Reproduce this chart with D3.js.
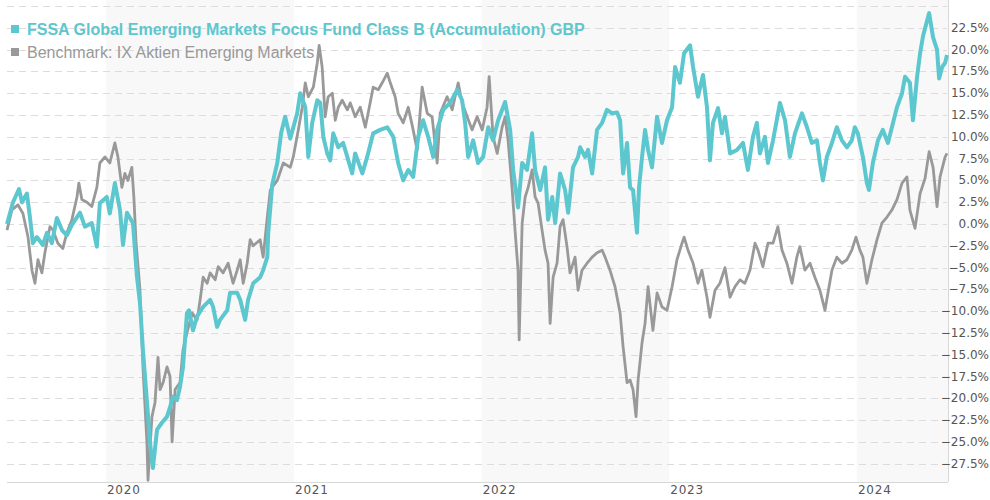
<!DOCTYPE html>
<html><head><meta charset="utf-8">
<script src="https://cdn.jsdelivr.net/npm/d3@7"></script>
<style>
html,body{margin:0;padding:0;background:#fff;}
svg{display:block;}
</style></head>
<body><svg id="chart" width="990" height="500"></svg>
<script>
// ---- data (dates as decimal years, values in %) ----
const fundName = "FSSA Global Emerging Markets Focus Fund Class B (Accumulation) GBP";
const benchName = "Benchmark: IX Aktien Emerging Markets";
const yearLabels = ["2020","2021","2022","2023","2024"];
const yTicks = [-27.5,-25,-22.5,-20,-17.5,-15,-12.5,-10,-7.5,-5,-2.5,0,2.5,5,7.5,10,12.5,15,17.5,20,22.5];
const gridTicks = [-27.5,-25,-22.5,-20,-17.5,-15,-12.5,-10,-7.5,-5,-2.5,0,2.5,5,7.5,10,12.5,15,17.5,20,22.5,25];

const fundDates = [2019.473,2019.505,2019.537,2019.553,2019.579,2019.595,2019.611,2019.632,2019.664,2019.686,2019.712,2019.739,2019.766,2019.792,2019.819,2019.862,2019.888,2019.925,2019.952,2019.968,2020.005,2020.021,2020.048,2020.075,2020.091,2020.112,2020.144,2020.165,2020.181,2020.197,2020.224,2020.234,2020.250,2020.272,2020.298,2020.325,2020.341,2020.357,2020.378,2020.394,2020.410,2020.431,2020.442,2020.463,2020.485,2020.517,2020.554,2020.570,2020.591,2020.607,2020.645,2020.660,2020.698,2020.714,2020.740,2020.756,2020.783,2020.820,2020.836,2020.858,2020.863,2020.884,2020.911,2020.932,2020.953,2020.980,2021.017,2021.033,2021.060,2021.076,2021.097,2021.124,2021.140,2021.156,2021.177,2021.193,2021.209,2021.236,2021.262,2021.284,2021.310,2021.326,2021.364,2021.390,2021.422,2021.459,2021.497,2021.529,2021.555,2021.582,2021.609,2021.635,2021.662,2021.688,2021.715,2021.742,2021.763,2021.795,2021.832,2021.870,2021.896,2021.912,2021.928,2021.955,2021.981,2022.008,2022.035,2022.061,2022.088,2022.125,2022.152,2022.168,2022.194,2022.216,2022.242,2022.269,2022.285,2022.312,2022.338,2022.354,2022.376,2022.392,2022.418,2022.445,2022.461,2022.487,2022.514,2022.525,2022.551,2022.567,2022.589,2022.615,2022.642,2022.668,2022.695,2022.722,2022.738,2022.754,2022.775,2022.791,2022.807,2022.828,2022.839,2022.855,2022.871,2022.887,2022.908,2022.935,2022.961,2022.988,2023.015,2023.031,2023.057,2023.079,2023.111,2023.127,2023.153,2023.180,2023.201,2023.217,2023.233,2023.260,2023.281,2023.297,2023.324,2023.361,2023.393,2023.419,2023.446,2023.467,2023.483,2023.510,2023.526,2023.553,2023.590,2023.617,2023.643,2023.670,2023.707,2023.734,2023.760,2023.787,2023.803,2023.819,2023.840,2023.867,2023.893,2023.920,2023.947,2023.973,2023.989,2024.005,2024.032,2024.053,2024.064,2024.085,2024.112,2024.138,2024.165,2024.192,2024.213,2024.240,2024.256,2024.282,2024.298,2024.320,2024.336,2024.352,2024.384,2024.405,2024.426,2024.437,2024.453,2024.469,2024.479];
const fundValues = [0.0,2.5,4.0,2.5,3.5,0.8,-2.2,-1.5,-2.4,-1.0,-2.2,0.7,-0.7,-1.3,-0.1,1.3,-0.3,0.1,-2.6,2.4,3.1,1.2,4.7,1.6,-2.4,1.3,0.1,-6.0,-9.0,-14.5,-22.0,-25.0,-28.0,-23.6,-22.8,-22.1,-21.0,-19.8,-20.2,-18.7,-16.4,-10.2,-9.9,-12.2,-10.6,-9.5,-8.7,-9.5,-11.8,-11.0,-9.9,-7.9,-7.9,-8.7,-11.0,-8.7,-6.8,-6.1,-5.3,-3.8,-1.0,4.5,7.0,10.5,12.3,9.8,12.7,15.0,13.4,7.7,11.6,14.2,13.9,10.0,8.1,7.3,10.4,8.8,9.3,7.7,5.8,8.1,5.8,7.7,10.4,10.8,11.1,10.0,7.0,5.0,6.2,5.4,10.0,11.9,10.0,7.7,10.8,13.1,13.9,15.4,14.2,11.6,7.7,9.6,7.0,7.7,11.1,9.6,11.9,14.0,10.8,6.2,1.9,7.0,6.2,10.4,6.2,3.9,6.5,0.5,3.1,0.1,5.8,3.9,1.3,6.5,7.7,8.8,7.7,8.5,5.8,10.8,11.6,13.1,12.7,12.8,11.9,5.8,9.3,4.2,3.9,-1.0,4.2,7.7,10.8,8.5,6.5,12.3,9.3,11.9,13.4,18.0,16.2,19.6,20.5,18.0,14.6,17.1,13.4,7.3,11.6,13.3,10.4,12.3,8.1,8.5,9.3,6.2,10.0,11.6,8.1,10.0,7.0,9.6,13.9,11.9,7.7,10.4,12.7,11.1,9.3,9.6,7.0,5.0,7.7,9.3,11.1,9.6,8.8,9.6,11.1,10.4,7.7,4.7,3.9,7.0,9.6,10.8,9.3,11.6,13.4,15.0,16.9,16.2,11.9,16.9,19.6,21.6,24.2,21.4,20.0,16.7,18.0,18.5,19.4];

const benchDates = [2019.473,2019.499,2019.531,2019.558,2019.585,2019.606,2019.622,2019.638,2019.659,2019.675,2019.702,2019.718,2019.744,2019.771,2019.792,2019.819,2019.846,2019.856,2019.872,2019.899,2019.925,2019.952,2019.968,2019.995,2020.021,2020.048,2020.064,2020.085,2020.101,2020.117,2020.138,2020.149,2020.160,2020.181,2020.197,2020.218,2020.224,2020.234,2020.245,2020.261,2020.277,2020.288,2020.304,2020.325,2020.341,2020.352,2020.368,2020.394,2020.410,2020.431,2020.458,2020.485,2020.501,2020.517,2020.538,2020.554,2020.581,2020.597,2020.623,2020.650,2020.676,2020.698,2020.714,2020.730,2020.751,2020.767,2020.783,2020.820,2020.836,2020.858,2020.874,2020.911,2020.943,2020.980,2020.996,2021.023,2021.044,2021.060,2021.076,2021.103,2021.124,2021.134,2021.150,2021.166,2021.182,2021.204,2021.220,2021.236,2021.257,2021.284,2021.300,2021.326,2021.353,2021.380,2021.395,2021.422,2021.449,2021.470,2021.497,2021.513,2021.539,2021.555,2021.582,2021.609,2021.635,2021.656,2021.683,2021.710,2021.736,2021.763,2021.779,2021.816,2021.843,2021.875,2021.896,2021.923,2021.949,2021.976,2022.003,2022.029,2022.040,2022.061,2022.083,2022.109,2022.125,2022.141,2022.162,2022.178,2022.194,2022.200,2022.216,2022.232,2022.248,2022.269,2022.285,2022.301,2022.322,2022.338,2022.354,2022.365,2022.381,2022.402,2022.418,2022.434,2022.455,2022.471,2022.498,2022.514,2022.535,2022.562,2022.589,2022.615,2022.642,2022.658,2022.684,2022.711,2022.738,2022.754,2022.775,2022.791,2022.807,2022.823,2022.834,2022.855,2022.871,2022.887,2022.913,2022.935,2022.961,2022.988,2023.015,2023.041,2023.068,2023.079,2023.100,2023.127,2023.153,2023.174,2023.201,2023.217,2023.244,2023.270,2023.297,2023.324,2023.350,2023.377,2023.403,2023.430,2023.457,2023.473,2023.499,2023.526,2023.553,2023.579,2023.601,2023.627,2023.654,2023.680,2023.696,2023.723,2023.750,2023.776,2023.803,2023.830,2023.846,2023.867,2023.893,2023.920,2023.947,2023.973,2023.995,2024.016,2024.032,2024.053,2024.080,2024.107,2024.133,2024.160,2024.186,2024.213,2024.240,2024.266,2024.282,2024.309,2024.336,2024.362,2024.384,2024.405,2024.426,2024.442,2024.469,2024.479];
const benchValues = [-0.7,1.6,2.2,1.2,-1.5,-5.3,-6.8,-4.1,-5.6,-3.3,-0.3,-0.7,-2.2,-2.8,-1.0,0.5,3.1,4.7,2.8,2.5,2.0,4.2,7.0,7.7,7.0,9.3,7.7,4.2,5.8,5.0,6.5,3.0,-2.0,-7.5,-16.4,-25.0,-29.4,-25.9,-22.1,-20.5,-15.3,-19.0,-18.2,-16.4,-17.5,-25.0,-19.0,-18.2,-14.4,-12.5,-10.2,-11.0,-8.7,-6.1,-6.8,-5.6,-6.4,-4.9,-5.6,-4.5,-6.8,-5.3,-4.1,-6.8,-4.5,-1.8,-2.5,-1.8,-3.8,0.8,3.9,5.0,7.0,6.5,7.7,10.8,13.4,16.2,14.6,15.7,18.5,20.5,18.0,12.3,14.6,15.0,11.9,13.4,14.2,13.1,13.9,12.3,13.4,11.1,12.7,15.7,15.4,16.2,17.3,16.2,14.6,12.7,11.6,13.4,10.8,8.5,15.7,12.7,12.3,7.0,12.7,14.6,13.1,16.2,13.9,12.3,10.8,12.3,10.8,13.4,16.9,10.0,8.1,11.1,12.3,9.6,4.2,-0.7,-5.3,-13.3,0.1,3.1,4.2,6.2,3.1,2.4,-0.7,-3.0,-4.5,-11.4,-6.1,-4.5,-0.3,0.5,-2.6,-5.6,-3.8,-7.6,-5.3,-4.5,-3.8,-3.3,-3.0,-3.8,-5.3,-7.2,-10.2,-14.1,-18.2,-17.9,-19.0,-22.1,-17.9,-13.6,-11.4,-7.2,-12.2,-7.9,-9.5,-9.9,-7.2,-4.1,-2.2,-1.5,-3.0,-4.5,-6.8,-5.3,-8.4,-10.7,-7.6,-6.8,-5.0,-8.4,-7.2,-6.4,-6.8,-5.3,-2.2,-3.0,-4.9,-2.2,-2.2,-0.3,-3.0,-4.5,-6.8,-3.8,-2.6,-5.3,-4.5,-6.1,-7.6,-9.9,-7.9,-5.3,-3.8,-4.5,-4.1,-3.0,-1.5,-3.0,-3.8,-6.8,-4.1,-1.8,0.1,0.8,1.6,2.8,4.7,5.4,1.6,-0.5,3.5,5.2,8.3,6.5,2.0,5.4,7.7,8.1];

// ---- helpers ----
function toDate(yv){
  const yr = Math.floor(yv);
  const s = Date.UTC(yr,0,1), e = Date.UTC(yr+1,0,1);
  return new Date(s + (yv-yr)*(e-s));
}
const fund = fundDates.map((d,i)=>({date:toDate(d), value:fundValues[i]}));
const bench = benchDates.map((d,i)=>({date:toDate(d), value:benchValues[i]}));

const svg = d3.select("#chart");
const mL = 7, mR = 947, mT = 0, mB = 482;

const x = d3.scaleUtc().domain([toDate(2019.473), toDate(2024.479)]).range([mL, mR]);
const y = d3.scaleLinear().domain([-29.6, 25.7]).range([mB, mT]);

// alternating year bands
const years = yearLabels.map(s => new Date(Date.UTC(+s,0,1)));
const bands = years.filter((d,i)=> i%2===0).map(d=>[d, d3.utcYear.offset(d,1)]);
svg.append("g").selectAll("rect").data(bands).join("rect")
  .attr("x", d=>x(d[0]))
  .attr("y", mT)
  .attr("width", d=> Math.min(x(d[1]), mR+1) - x(d[0]))
  .attr("height", mB-mT)
  .attr("fill", "#f8f8f8");

// gridlines
svg.append("g").selectAll("line").data(gridTicks).join("line")
  .attr("x1", mL).attr("x2", mR)
  .attr("y1", d=>Math.round(y(d))+0.5).attr("y2", d=>Math.round(y(d))+0.5)
  .attr("stroke", "#dcdcdc").attr("stroke-width",1).attr("stroke-dasharray","7,5");

// axes lines
svg.append("line").attr("x1",mL).attr("x2",mR+1).attr("y1",mB+0.5).attr("y2",mB+0.5)
  .attr("stroke","#d8d8d8");
svg.append("line").attr("x1",mR+1.5).attr("x2",mR+1.5).attr("y1",mT).attr("y2",mB)
  .attr("stroke","#d8d8d8");

// y labels (right)
const fmt = d => d3.format(".1f")(d) + "%";
svg.append("g").selectAll("text").data(yTicks).join("text")
  .attr("x", 989).attr("y", d=>y(d)+4)
  .attr("text-anchor","end")
  .attr("font-family","DejaVu Sans, Verdana, sans-serif")
  .attr("font-size", 12).attr("fill","#555")
  .text(fmt);

// x labels
svg.append("g").selectAll("text").data(years).join("text")
  .attr("x", d=>x(d)+1).attr("y", 494)
  .attr("font-family","DejaVu Sans, Verdana, sans-serif")
  .attr("font-size", 12).attr("fill","#555")
  .attr("letter-spacing", 0.8)
  .text(d=>d3.utcFormat("%Y")(d));

// lines
const line = d3.line().defined(d=>d.value!=null).x(d=>x(d.date)).y(d=>y(d.value)).curve(d3.curveLinear);
svg.append("path").datum(bench).attr("d", line)
  .attr("fill","none").attr("stroke","#999").attr("stroke-width",2.8).attr("stroke-linejoin","round");
svg.append("path").datum(fund).attr("d", line)
  .attr("fill","none").attr("stroke","#5cc7ce").attr("stroke-width",4).attr("stroke-linejoin","round");

// legend
const legend = [{name:fundName, color:"#5cc7ce", weight:"bold", ty:35},
                {name:benchName, color:"#999", weight:"normal", ty:58}];
const lg = svg.append("g");
lg.selectAll("rect").data(legend).join("rect")
  .attr("x", 11).attr("y", d=>d.ty-10).attr("width", 8).attr("height", 8)
  .attr("fill", d=>d.color);
lg.selectAll("text").data(legend).join("text")
  .attr("x", 27).attr("y", d=>d.ty)
  .attr("font-family","Liberation Sans, Arial, sans-serif")
  .attr("font-size", 16).attr("font-weight", d=>d.weight)
  .attr("fill", d=>d.color)
  .text(d=>d.name);
</script></body></html>
